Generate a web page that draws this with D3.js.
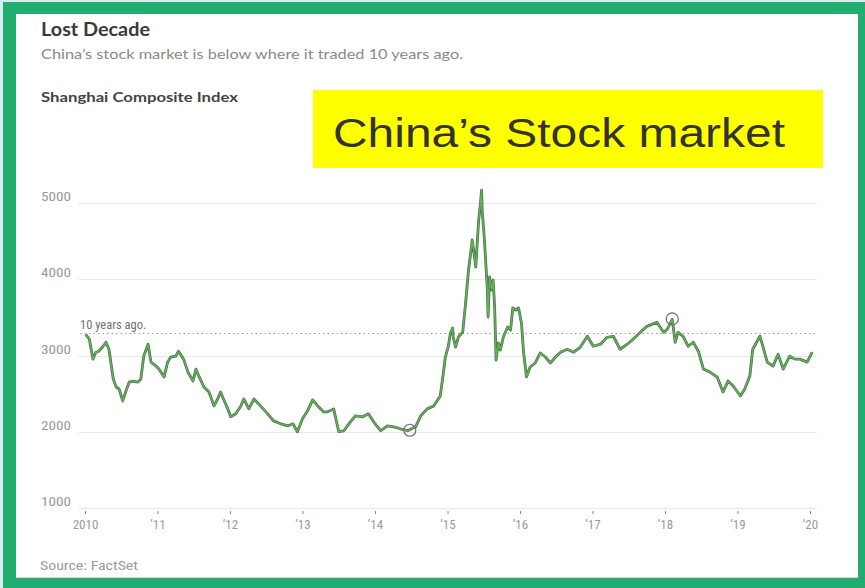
<!DOCTYPE html>
<html>
<head>
<meta charset="utf-8">
<script src="https://cdn.jsdelivr.net/npm/d3@7"></script>
<style>
  html, body { margin: 0; padding: 0; background: #ffffff; }
  svg { display: block; }
  .hdr { font-family: "Lato", "Roboto", sans-serif; }
  .tick-lbl { font-family: "Roboto Condensed", "Liberation Sans Narrow", "Roboto", sans-serif; font-stretch: condensed; }
</style>
</head>
<body>
<svg id="chart" width="865" height="588"></svg>
<script>
// Shanghai Composite Index, 2010–2020 (decimal year, index level)
const years = [
  2010.01, 2010.06, 2010.11, 2010.15, 2010.19, 2010.25, 2010.29, 2010.33, 2010.39, 2010.43,
  2010.47, 2010.52, 2010.56, 2010.61, 2010.66, 2010.73, 2010.77, 2010.81, 2010.87, 2010.91,
  2010.98, 2011.02, 2011.09, 2011.14, 2011.18, 2011.25, 2011.29, 2011.36, 2011.42, 2011.49,
  2011.53, 2011.57, 2011.64, 2011.71, 2011.78, 2011.83, 2011.87, 2011.91, 2011.97, 2012.01,
  2012.08, 2012.15, 2012.19, 2012.26, 2012.33, 2012.42, 2012.52, 2012.60, 2012.70, 2012.80,
  2012.87, 2012.93, 2013.00, 2013.07, 2013.14, 2013.21, 2013.29, 2013.35, 2013.43, 2013.50,
  2013.57, 2013.66, 2013.73, 2013.83, 2013.91, 2013.98, 2014.08, 2014.17, 2014.26, 2014.35,
  2014.45, 2014.56, 2014.63, 2014.72, 2014.81, 2014.90, 2014.94, 2014.97, 2015.01, 2015.04,
  2015.07, 2015.08, 2015.11, 2015.14, 2015.15, 2015.21, 2015.25, 2015.29, 2015.33, 2015.34,
  2015.36, 2015.39, 2015.41, 2015.43, 2015.45, 2015.47, 2015.48, 2015.50, 2015.52, 2015.55,
  2015.56, 2015.58, 2015.61, 2015.63, 2015.65, 2015.67, 2015.70, 2015.73, 2015.77, 2015.83,
  2015.87, 2015.90, 2015.94, 2015.98, 2016.02, 2016.05, 2016.09, 2016.14, 2016.21, 2016.28,
  2016.35, 2016.42, 2016.49, 2016.56, 2016.65, 2016.74, 2016.83, 2016.93, 2017.01, 2017.11,
  2017.20, 2017.29, 2017.38, 2017.48, 2017.56, 2017.66, 2017.75, 2017.89, 2017.98, 2018.03,
  2018.10, 2018.14, 2018.18, 2018.25, 2018.32, 2018.39, 2018.46, 2018.53, 2018.62, 2018.72,
  2018.80, 2018.87, 2018.94, 2019.04, 2019.10, 2019.17, 2019.21, 2019.31, 2019.35, 2019.41,
  2019.49, 2019.56, 2019.63, 2019.72, 2019.79, 2019.86, 2019.96, 2020.03
];
const closes = [
  3278, 3213, 2952, 3043, 3056, 3121, 3174, 3082, 2691, 2587,
  2561, 2404, 2522, 2652, 2665, 2652, 2691, 2991, 3148, 2913,
  2861, 2822, 2717, 2913, 2978, 2991, 3056, 2952, 2782, 2665,
  2822, 2730, 2587, 2522, 2339, 2430, 2522, 2430, 2300, 2196,
  2235, 2339, 2430, 2300, 2430, 2339, 2235, 2143, 2104, 2078,
  2104, 2000, 2170, 2274, 2417, 2339, 2261, 2261, 2300, 2000,
  2013, 2130, 2209, 2196, 2235, 2130, 2013, 2078, 2065, 2039,
  2013, 2065, 2209, 2300, 2339, 2469, 2750, 2980, 3112, 3295,
  3361, 3243, 3112, 3203, 3243, 3308, 3689, 4121, 4423, 4515,
  4384, 4161, 4475, 4777, 4948, 5170, 4869, 4646, 4344, 3859,
  3505, 4030, 3859, 3990, 3636, 2941, 3164, 3072, 3243, 3374,
  3334, 3623, 3597, 3623, 3426, 3033, 2720, 2849, 2902, 3033,
  2980, 2902, 2980, 3043, 3082, 3043, 3108, 3252, 3121, 3148,
  3239, 3252, 3082, 3148, 3213, 3304, 3382, 3434, 3304, 3343,
  3474, 3174, 3304, 3252, 3121, 3174, 3056, 2822, 2782, 2717,
  2522, 2665, 2600, 2469, 2561, 2730, 3082, 3252, 3121, 2913,
  2861, 3017, 2822, 2991, 2952, 2952, 2913, 3043
];

// Axis ticks
const yTicks = [1000, 2000, 3000, 4000, 5000];
const xTicks = [2010, 2011, 2012, 2013, 2014, 2015, 2016, 2017, 2018, 2019, 2020];
const xTickLabels = ["2010", "’11", "’12", "’13", "’14", "’15", "’16", "’17", "’18", "’19", "’20"];

// Reference level from ten years earlier, and the two marked points
const tenYearsAgo = 3290;
const markedPoints = [
  { year: 2014.48, value: 2020 },
  { year: 2018.10, value: 3480 }
];

const svg = d3.select("#chart");

// Green frame around a white card
svg.append("rect").attr("x", 0).attr("y", 0).attr("width", 865).attr("height", 588).attr("fill", "#d6eef2");
svg.append("rect").attr("x", 3).attr("y", 2).attr("width", 862).attr("height", 586).attr("fill", "#21ad70");
svg.append("rect").attr("x", 16).attr("y", 14).attr("width", 842).attr("height", 563).attr("fill", "#ffffff");
svg.append("line").attr("x1", 16).attr("x2", 858).attr("y1", 577.5).attr("y2", 577.5)
  .attr("stroke", "#f1c9d8").attr("stroke-width", 1);

// Headings
svg.append("text").attr("class", "hdr").attr("x", 41).attr("y", 36)
  .attr("font-size", 18).attr("font-weight", 700).attr("fill", "#3a3a3a")
  .attr("textLength", 109).attr("lengthAdjust", "spacingAndGlyphs")
  .text("Lost Decade");
svg.append("text").attr("class", "hdr").attr("x", 41).attr("y", 59)
  .attr("font-size", 12.5).attr("fill", "#8a8a8a")
  .attr("textLength", 422).attr("lengthAdjust", "spacingAndGlyphs")
  .text("China’s stock market is below where it traded 10 years ago.");
svg.append("text").attr("class", "hdr").attr("x", 41).attr("y", 102)
  .attr("font-size", 13).attr("font-weight", 700).attr("fill", "#444")
  .attr("textLength", 197).attr("lengthAdjust", "spacingAndGlyphs")
  .text("Shanghai Composite Index");

// Yellow callout
svg.append("rect").attr("x", 313).attr("y", 90).attr("width", 510).attr("height", 78).attr("fill", "#ffff00");
svg.append("text").attr("x", 333).attr("y", 147)
  .attr("font-family", "'Liberation Sans', Arial, sans-serif")
  .attr("font-size", 40).attr("fill", "#333333")
  .attr("textLength", 452).attr("lengthAdjust", "spacingAndGlyphs")
  .text("China’s Stock market");

// Scales
const x = d3.scaleLinear().domain([2010, 2020]).range([85, 810]);
const y = d3.scaleLinear().domain([1000, 5000]).range([508, 203]);

// Horizontal gridlines with labels above their left ends
const grid = svg.append("g");
grid.selectAll("line").data(yTicks).join("line")
  .attr("x1", 78).attr("x2", 817)
  .attr("y1", d => Math.round(y(d)) + 0.5).attr("y2", d => Math.round(y(d)) + 0.5)
  .attr("stroke", "#e9e9e9").attr("stroke-width", 1);
grid.selectAll("text").data(yTicks).join("text")
  .attr("class", "tick-lbl")
  .attr("x", 41).attr("y", d => y(d) - 2)
  .attr("font-size", 12.5).attr("fill", "#9a9a9a")
  .attr("textLength", 30).attr("lengthAdjust", "spacingAndGlyphs")
  .text(d => d);

// "10 years ago" dotted reference
svg.append("line")
  .attr("x1", 80).attr("x2", 817)
  .attr("y1", Math.round(y(tenYearsAgo)) + 0.5).attr("y2", Math.round(y(tenYearsAgo)) + 0.5)
  .attr("stroke", "#9c9c9c").attr("stroke-width", 1).attr("stroke-dasharray", "1.5,3");
svg.append("text").attr("class", "tick-lbl")
  .attr("x", 80).attr("y", y(tenYearsAgo) - 4)
  .attr("font-size", 12.5).attr("fill", "#707070")
  .text("10 years ago.");

// X axis: tiny ticks with year labels beneath
const xAxis = d3.axisBottom(x)
  .tickValues(xTicks)
  .tickSize(3)
  .tickPadding(6)
  .tickFormat((d, i) => xTickLabels[i]);
const gx = svg.append("g").attr("transform", "translate(0,511)").call(xAxis);
gx.select(".domain").remove();
gx.selectAll(".tick line").attr("stroke", "#888");
gx.selectAll(".tick text")
  .attr("class", "tick-lbl")
  .attr("font-size", 13).attr("fill", "#9a9a9a");

// Index line
const series = years.map((t, i) => ({ t, v: closes[i] }));
const line = d3.line().x(d => x(d.t)).y(d => y(d.v)).curve(d3.curveLinear);
svg.append("path").datum(series)
  .attr("d", line).attr("fill", "none")
  .attr("stroke", "#4f6e4c").attr("stroke-width", 2.8).attr("stroke-linejoin", "round");
svg.append("path").datum(series)
  .attr("d", line).attr("fill", "none")
  .attr("stroke", "#5fb556").attr("stroke-width", 1.4).attr("stroke-linejoin", "round");

// Hollow circles on the marked points
svg.append("g").selectAll("circle").data(markedPoints).join("circle")
  .attr("cx", d => x(d.year)).attr("cy", d => y(d.value)).attr("r", 6)
  .attr("fill", "none").attr("stroke", "#6f6f6f").attr("stroke-width", 1.2);

// Source line
svg.append("text").attr("class", "tick-lbl")
  .attr("x", 40).attr("y", 570)
  .attr("font-size", 12.5).attr("fill", "#9a9a9a")
  .attr("textLength", 98).attr("lengthAdjust", "spacingAndGlyphs")
  .text("Source: FactSet");
</script>
</body>
</html>
